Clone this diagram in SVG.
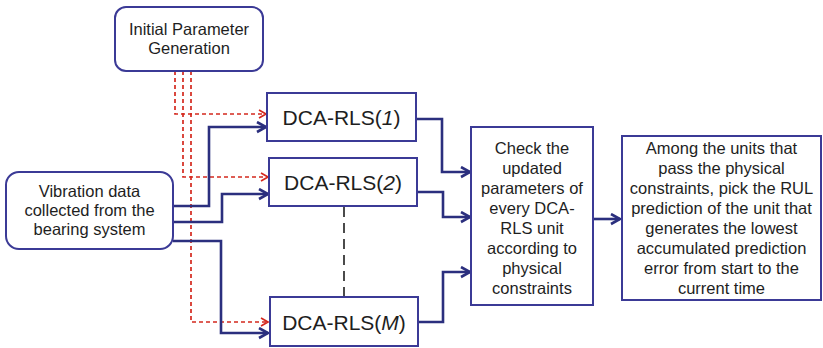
<svg xmlns="http://www.w3.org/2000/svg" width="823" height="348" viewBox="0 0 823 348">
  <style>
    .box { fill: #ffffff; stroke: #3b3a96; stroke-width: 2; }
    .txt { font-family: "Liberation Sans", Arial, sans-serif; fill: #1e1e1e; text-anchor: middle; }
    .t16 { font-size: 16.5px; }
    .t21 { font-size: 21px; }
    .flow { fill: none; stroke: #2b2f7e; stroke-width: 2.6; stroke-linejoin: miter; }
    .init { fill: none; stroke: #d4281e; stroke-width: 1.7; stroke-dasharray: 4 3; }
    .gap { fill: none; stroke: #1e1e1e; stroke-width: 1.6; stroke-dasharray: 10 6; }
  </style>
  <defs>
    <marker id="arrowBlue" markerUnits="userSpaceOnUse" markerWidth="14" markerHeight="14" refX="10" refY="6" orient="auto">
      <path d="M1,1 L10,6 L1,11" fill="none" stroke="#2b2f7e" stroke-width="2.6"/>
    </marker>
    <marker id="arrowRed" markerUnits="userSpaceOnUse" markerWidth="12" markerHeight="12" refX="8" refY="5" orient="auto">
      <path d="M1,1 L8,5 L1,9" fill="none" stroke="#d4281e" stroke-width="1.7"/>
    </marker>
  </defs>

  <!-- connectors -->
  <g id="connectors">
    <!-- initial parameters to each unit -->
    <polyline class="init" points="175,71 175,114 266,114" marker-end="url(#arrowRed)"/>
    <polyline class="init" points="183,71 183,177 268,177" marker-end="url(#arrowRed)"/>
    <polyline class="init" points="191,71 191,322 268,322" marker-end="url(#arrowRed)"/>
    <!-- vibration data to each unit -->
    <polyline class="flow" points="173,206 209,206 209,127 266,127" marker-end="url(#arrowBlue)"/>
    <polyline class="flow" points="173,222 222,222 222,194 268,194" marker-end="url(#arrowBlue)"/>
    <polyline class="flow" points="173,241 221,241 221,333 268,333" marker-end="url(#arrowBlue)"/>
    <!-- units to constraint check -->
    <polyline class="flow" points="416,119 442,119 442,172 470,172" marker-end="url(#arrowBlue)"/>
    <polyline class="flow" points="417,192 443,192 443,217 470,217" marker-end="url(#arrowBlue)"/>
    <polyline class="flow" points="418,322 443,322 443,272 470,272" marker-end="url(#arrowBlue)"/>
    <!-- constraint check to selection -->
    <line class="flow" x1="593" y1="219" x2="620" y2="219" marker-end="url(#arrowBlue)"/>
    <!-- omitted units between 2 and M -->
    <line class="gap" x1="344" y1="207" x2="344" y2="297"/>
  </g>

  <g id="init-params">
    <rect class="box" x="115" y="7" width="148" height="64" rx="11"/>
    <text class="txt t16" x="189" y="35">Initial Parameter</text>
    <text class="txt t16" x="189" y="54">Generation</text>
  </g>

  <g id="vibration-data">
    <rect class="box" x="6" y="172" width="167" height="77" rx="13"/>
    <text class="txt t16" x="89.5" y="197">Vibration data</text>
    <text class="txt t16" x="89.5" y="216">collected from the</text>
    <text class="txt t16" x="89.5" y="235">bearing system</text>
  </g>

  <g id="unit-1">
    <rect class="box" x="267" y="93" width="149" height="48"/>
    <text class="txt t21" x="341.5" y="125">DCA-RLS(<tspan font-style="italic">1</tspan>)</text>
  </g>

  <g id="unit-2">
    <rect class="box" x="269" y="158" width="148" height="48"/>
    <text class="txt t21" x="343" y="190">DCA-RLS(<tspan font-style="italic">2</tspan>)</text>
  </g>

  <g id="unit-m">
    <rect class="box" x="270" y="297" width="148" height="49"/>
    <text class="txt t21" x="344" y="330">DCA-RLS(<tspan font-style="italic">M</tspan>)</text>
  </g>

  <g id="constraint-check">
    <rect class="box" x="471" y="127" width="122" height="178"/>
    <text class="txt t16" x="532" y="154">Check the</text>
    <text class="txt t16" x="532" y="174">updated</text>
    <text class="txt t16" x="532" y="194">parameters of</text>
    <text class="txt t16" x="532" y="214">every DCA-</text>
    <text class="txt t16" x="532" y="234">RLS unit</text>
    <text class="txt t16" x="532" y="254">according to</text>
    <text class="txt t16" x="532" y="274">physical</text>
    <text class="txt t16" x="532" y="294">constraints</text>
  </g>

  <g id="selection">
    <rect class="box" x="622" y="136" width="199" height="164"/>
    <text class="txt t16" x="721.5" y="154">Among the units that</text>
    <text class="txt t16" x="721.5" y="174">pass the physical</text>
    <text class="txt t16" x="721.5" y="194">constraints, pick the RUL</text>
    <text class="txt t16" x="721.5" y="214">prediction of the unit that</text>
    <text class="txt t16" x="721.5" y="234">generates the lowest</text>
    <text class="txt t16" x="721.5" y="254">accumulated prediction</text>
    <text class="txt t16" x="721.5" y="274">error from start to the</text>
    <text class="txt t16" x="721.5" y="294">current time</text>
  </g>
</svg>
